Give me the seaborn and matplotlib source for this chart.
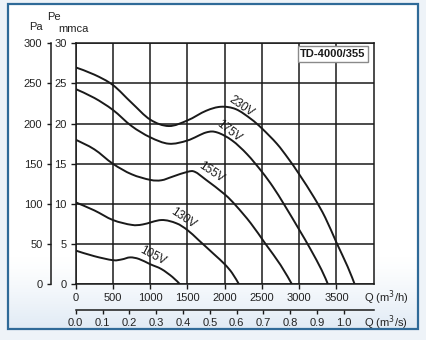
import matplotlib
matplotlib.use("Agg")
import numpy as np
import pandas as pd
import seaborn as sns
import matplotlib.pyplot as plt
from matplotlib.patches import Rectangle, PathPatch
from matplotlib.path import Path

# Fan curves: airflow Q (m3/h) against static pressure Pe (mmca)
q_230 = [0, 250, 500, 750, 1000, 1250, 1500, 1750, 1950, 2150, 2350, 2500, 2700, 2850, 3000, 3200, 3350, 3500, 3650, 3745]
p_230 = [27.0, 26.1, 24.8, 22.6, 20.5, 19.7, 20.4, 21.6, 22.1, 21.8, 20.6, 19.4, 17.5, 15.7, 13.7, 10.8, 8.3, 5.2, 2.2, 0.0]

q_175 = [0, 250, 500, 750, 1000, 1250, 1500, 1750, 1900, 2100, 2300, 2500, 2650, 2800, 3000, 3150, 3300, 3386]
p_175 = [24.3, 23.2, 21.7, 19.7, 18.3, 17.5, 17.9, 18.9, 18.9, 17.9, 16.2, 14.0, 12.1, 9.9, 6.8, 4.4, 1.8, 0.0]

q_155 = [0, 250, 500, 750, 1000, 1150, 1300, 1500, 1600, 1750, 2000, 2150, 2350, 2550, 2750, 2903]
p_155 = [18.0, 16.8, 15.0, 13.7, 13.0, 12.95, 13.4, 14.0, 14.0, 13.0, 11.2, 9.8, 7.6, 5.0, 2.4, 0.0]

q_130 = [0, 250, 500, 750, 900, 1150, 1350, 1500, 1650, 1850, 2000, 2100, 2192]
p_130 = [10.2, 9.2, 8.0, 7.4, 7.45, 8.0, 7.6, 6.75, 5.5, 3.8, 2.5, 1.4, 0.0]

q_105 = [0, 250, 500, 620, 730, 850, 1000, 1150, 1300, 1400]
p_105 = [4.2, 3.5, 3.0, 3.1, 3.35, 3.15, 2.5, 1.9, 0.9, 0.0]

curve_names = ["230V", "175V", "155V", "130V", "105V"]
curve_q = [q_230, q_175, q_155, q_130, q_105]
curve_p = [p_230, p_175, p_155, p_130, p_105]

# label anchor (Q, mmca) and text angle for each curve
label_q = [2230, 2060, 1815, 1440, 1040]
label_p = [22.2, 19.1, 13.9, 8.2, 3.5]
label_rot = [-35, -38, -34, -34, -28]

q_ticks = [0, 500, 1000, 1500, 2000, 2500, 3000, 3500]
mmca_ticks = [0, 5, 10, 15, 20, 25, 30]
pa_ticks = [0, 50, 100, 150, 200, 250, 300]
qs_ticks = [0.0, 0.1, 0.2, 0.3, 0.4, 0.5, 0.6, 0.7, 0.8, 0.9, 1.0]

title = "TD-4000/355"

df = pd.concat(
    [pd.DataFrame({"Q": q, "P": p, "curve": n}) for n, q, p in zip(curve_names, curve_q, curve_p)],
    ignore_index=True,
)

sns.set_theme(style="ticks")
plt.rcParams["font.family"] = ["Liberation Sans", "DejaVu Sans"]

W, H = 426, 340
INK = "#1a1a1a"

fig = plt.figure(figsize=(W / 100, H / 100), dpi=100)
fig.patch.set_facecolor("#eef3f8")


def fx(x):
    return x / W


def fy(y):
    return 1 - y / H


def bezier_through(xy):
    """Cubic Bezier path passing through every given point (Catmull-Rom tangents)."""
    pts = np.asarray(xy, dtype=float)
    n = len(pts)
    verts = [pts[0]]
    codes = [Path.MOVETO]
    for i in range(n - 1):
        p0 = pts[max(i - 1, 0)]
        p1 = pts[i]
        p2 = pts[i + 1]
        p3 = pts[min(i + 2, n - 1)]
        verts += [p1 + (p2 - p0) / 6.0, p2 - (p3 - p1) / 6.0, p2]
        codes += [Path.CURVE4] * 3
    return Path(verts, codes)


# framed panel with a soft blue shade towards the bottom
bg = fig.add_axes([0, 0, 1, 1], zorder=-10)
bg.set_xlim(0, W)
bg.set_ylim(H, 0)
bg.axis("off")
rows = 200
t = np.clip((np.arange(rows) / (rows - 1) - 0.78) / 0.22, 0, 1) ** 1.3
top = np.array([1.0, 1.0, 1.0])
bottom = np.array([0.88, 0.92, 0.96])
grad = (top[None, :] * (1 - t[:, None]) + bottom[None, :] * t[:, None])[:, None, :]
bg.imshow(grad, extent=[8, 418, 329, 4], aspect="auto", interpolation="bilinear")
bg.add_patch(Rectangle((8, 4), 410, 325, fill=False, edgecolor="#2f6a98", lw=1.6))

# main plot area
x0, x1, y0, y1 = 75.7, 373.7, 43.3, 284.3
ax = fig.add_axes([fx(x0), fy(y1), (x1 - x0) / W, (y1 - y0) / H])
ax.set_facecolor("white")

sns.lineplot(data=df, x="Q", y="P", units="curve", estimator=None, sort=False,
             color=INK, lw=1.4, ax=ax, legend=False)

# redraw each curve as a smooth stroke through its points
for line in list(ax.get_lines()):
    path = bezier_through(line.get_xydata())
    ax.add_patch(PathPatch(path, facecolor="none", edgecolor=INK, lw=1.4,
                           capstyle="round", joinstyle="round", zorder=3))
    line.set_visible(False)

ax.set_xlim(0, 4000)
ax.set_ylim(0, 30)
ax.set_xticks(q_ticks)
ax.set_yticks(mmca_ticks)
ax.set_xticklabels([str(v) for v in q_ticks])
ax.set_yticklabels([str(v) for v in mmca_ticks])
ax.set_xlabel("")
ax.set_ylabel("")
ax.grid(True, color=INK, lw=1.1)
for s in ax.spines.values():
    s.set_visible(True)
    s.set_color(INK)
    s.set_linewidth(1.1)
ax.tick_params(axis="both", direction="out", length=3.6, width=1.0, color=INK,
               labelsize=8, labelcolor="#222222", pad=3, bottom=True, left=True)

for name, lq, lp, rot in zip(curve_names, label_q, label_p, label_rot):
    ax.text(lq, lp, name, rotation=rot, rotation_mode="anchor", ha="center", va="center",
            fontsize=8.5, color=INK, zorder=4)

# Pa scale on an offset left spine
ax_pa = ax.twinx()
ax_pa.set_ylim(0, 300)
ax_pa.set_yticks(pa_ticks)
ax_pa.set_yticklabels([str(v) for v in pa_ticks])
ax_pa.yaxis.set_ticks_position("left")
for k, s in ax_pa.spines.items():
    s.set_visible(k == "left")
ax_pa.spines["left"].set_position(("outward", 18))
ax_pa.spines["left"].set_color(INK)
ax_pa.spines["left"].set_linewidth(1.1)
ax_pa.tick_params(axis="y", direction="out", length=3, width=1.0, color=INK,
                  labelsize=8, labelcolor="#222222", pad=3, left=True, right=False)
ax_pa.grid(False)

# flow in m3/s on an offset bottom spine
ax_s = ax.twiny()
ax_s.set_xlim(0, 4000 / 3600)
ax_s.set_xticks(qs_ticks)
ax_s.set_xticklabels([f"{v:.1f}" for v in qs_ticks])
ax_s.xaxis.set_ticks_position("bottom")
for k, s in ax_s.spines.items():
    s.set_visible(k == "bottom")
ax_s.spines["bottom"].set_position(("outward", 18.5))
ax_s.spines["bottom"].set_color(INK)
ax_s.spines["bottom"].set_linewidth(1.1)
ax_s.tick_params(axis="x", direction="out", length=3, width=1.0, color=INK,
                 labelsize=8, labelcolor="#222222", pad=2.5, bottom=True, top=False)
ax_s.grid(False)

# axis captions
fig.text(fx(54), fy(16.5), "Pe", ha="center", va="center", fontsize=8, color="#222222")
fig.text(fx(35.5), fy(27), "Pa", ha="center", va="center", fontsize=8, color="#222222")
fig.text(fx(73), fy(28.5), "mmca", ha="center", va="center", fontsize=8, color="#222222")
fig.text(fx(364), fy(297.5), "Q (m$^3$/h)", ha="left", va="center", fontsize=8, color="#222222")
fig.text(fx(364), fy(322.5), "Q (m$^3$/s)", ha="left", va="center", fontsize=8, color="#222222")

fig.text(fx(333), fy(54.2), title, ha="center", va="center", fontsize=8, fontweight="bold",
         color=INK, bbox=dict(boxstyle="square,pad=0.25", facecolor="white",
                              edgecolor="#8a8a8a", lw=1.0))

fig.savefig("out.png", dpi=100, facecolor=fig.get_facecolor())
